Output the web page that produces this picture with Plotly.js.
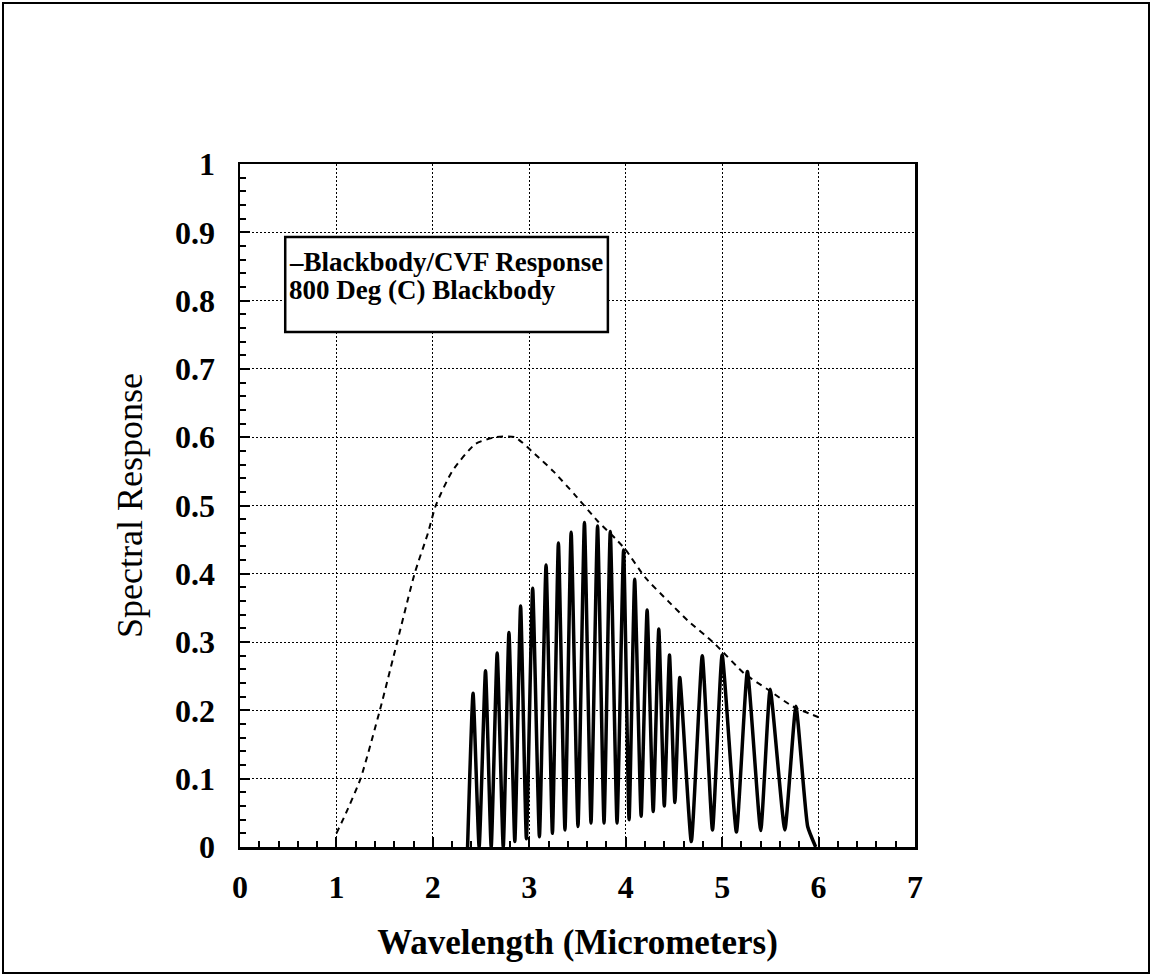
<!DOCTYPE html>
<html>
<head>
<meta charset="utf-8">
<script src="https://cdn.plot.ly/plotly-3.0.1.min.js"></script>
<style>
  html, body { margin: 0; padding: 0; background: #fff; }
  #wrap { position: relative; width: 1152px; height: 976px; }
  #chart { width: 1152px; height: 976px; }
  #frame { position: absolute; left: 2px; top: 2px; right: 2px; bottom: 2px; border: 2px solid #000; pointer-events: none; }
</style>
</head>
<body>
<div id="wrap">
  <div id="chart"></div>
  <div id="frame"></div>
</div>
<script>
// Blackbody (800 deg C) curve, dashed
const bbWavelength = [1.0, 1.1, 1.25, 1.45, 1.63, 1.81, 1.95, 2.03, 2.2, 2.44, 2.65, 2.85, 3.06, 3.25, 3.47, 3.71, 3.89, 4.0, 4.2, 4.44, 4.64, 4.92, 5.23, 5.47, 5.73, 6.0];
const bbResponse   = [0.02, 0.05, 0.10, 0.20, 0.30, 0.40, 0.46, 0.50, 0.55, 0.59, 0.60, 0.60, 0.575, 0.55, 0.516, 0.477, 0.452, 0.435, 0.395, 0.36, 0.332, 0.298, 0.254, 0.231, 0.206, 0.19];

// Blackbody / CVF response, solid
const cvfWavelength = [2.36, 2.417, 2.48, 2.546, 2.605, 2.667, 2.73, 2.789, 2.85, 2.91, 2.97, 3.035, 3.105, 3.174, 3.24, 3.302, 3.37, 3.434, 3.505, 3.572, 3.64, 3.708, 3.775, 3.84, 3.91, 3.978, 4.035, 4.093, 4.16, 4.222, 4.285, 4.343, 4.40, 4.454, 4.51, 4.561, 4.68, 4.794, 4.90, 5.0, 5.148, 5.262, 5.40, 5.498, 5.65, 5.765, 5.887, 5.97];
const cvfResponse   = [0.0, 0.225, 0.0, 0.258, 0.0, 0.284, 0.0, 0.314, 0.008, 0.353, 0.012, 0.379, 0.015, 0.413, 0.02, 0.445, 0.025, 0.461, 0.03, 0.475, 0.035, 0.470, 0.035, 0.462, 0.035, 0.435, 0.04, 0.392, 0.045, 0.347, 0.052, 0.319, 0.06, 0.281, 0.065, 0.248, 0.008, 0.280, 0.025, 0.281, 0.022, 0.257, 0.024, 0.231, 0.025, 0.206, 0.03, 0.0];

const xTickVals = [0, 1, 2, 3, 4, 5, 6, 7];
const xTickText = ['0', '1', '2', '3', '4', '5', '6', '7'];
const yTickVals = [0, 0.1, 0.2, 0.3, 0.4, 0.5, 0.6, 0.7, 0.8, 0.9, 1];
const yTickText = ['0', '0.1', '0.2', '0.3', '0.4', '0.5', '0.6', '0.7', '0.8', '0.9', '1'];

const legendLine1 = '–Blackbody/CVF Response';
const legendLine2 = '800 Deg (C) Blackbody';

const serif = 'Liberation Serif, Times New Roman, serif';

const traces = [
  {
    x: bbWavelength, y: bbResponse, type: 'scatter', mode: 'lines',
    line: { color: '#000', width: 2, dash: '6px,5px', shape: 'spline', smoothing: 0.6 },
    hoverinfo: 'skip', showlegend: false
  },
  {
    x: cvfWavelength, y: cvfResponse, type: 'scatter', mode: 'lines',
    line: { color: '#000', width: 3.5, shape: 'spline', smoothing: 0.45 },
    hoverinfo: 'skip', showlegend: false
  }
];

const axisCommon = {
  showline: true, linecolor: '#000', linewidth: 2.5, mirror: true,
  showgrid: true, gridcolor: '#000', gridwidth: 1, griddash: '2px,2px',
  zeroline: false, ticks: 'inside', tickcolor: '#000', tickwidth: 2, ticklen: 10,
  tickfont: { family: serif, size: 32, color: '#000', weight: 'bold' },
  tickmode: 'array', automargin: false
};

const layout = {
  width: 1152, height: 976,
  margin: { l: 240, r: 237, t: 164, b: 129 },
  paper_bgcolor: '#fff', plot_bgcolor: '#fff',
  showlegend: false,
  xaxis: Object.assign({}, axisCommon, {
    range: [0, 7], tickvals: xTickVals, ticktext: xTickText,
    ticklabelstandoff: 10,
    minor: { dtick: 0.2, tick0: 0, ticks: 'inside', ticklen: 6, tickwidth: 2, tickcolor: '#000', showgrid: false },
    title: { text: 'Wavelength (Micrometers)', standoff: 26,
             font: { family: serif, size: 35, color: '#000', weight: 'bold' } }
  }),
  yaxis: Object.assign({}, axisCommon, {
    range: [0, 1], tickvals: yTickVals, ticktext: yTickText,
    ticklabelstandoff: 16,
    minor: { dtick: 0.02, tick0: 0, ticks: 'inside', ticklen: 6, tickwidth: 2, tickcolor: '#000', showgrid: false },
    title: { text: 'Spectral Response', standoff: 22,
             font: { family: serif, size: 36, color: '#000' } }
  }),
  shapes: [
    { type: 'rect', xref: 'paper', yref: 'paper', x0: 0.067, x1: 0.545, y0: 0.754, y1: 0.893,
      fillcolor: '#fff', line: { color: '#000', width: 2.5 }, layer: 'above' }
  ],
  annotations: [
    { xref: 'paper', yref: 'paper', x: 0.0696, y: 0.857, xanchor: 'left', yanchor: 'middle',
      text: legendLine1, showarrow: false,
      font: { family: serif, size: 27, color: '#000', weight: 'bold' } },
    { xref: 'paper', yref: 'paper', x: 0.0696, y: 0.816, xanchor: 'left', yanchor: 'middle',
      text: legendLine2, showarrow: false,
      font: { family: serif, size: 27, color: '#000', weight: 'bold' } }
  ]
};

Plotly.newPlot('chart', traces, layout, { staticPlot: true, displayModeBar: false });
</script>
</body>
</html>
